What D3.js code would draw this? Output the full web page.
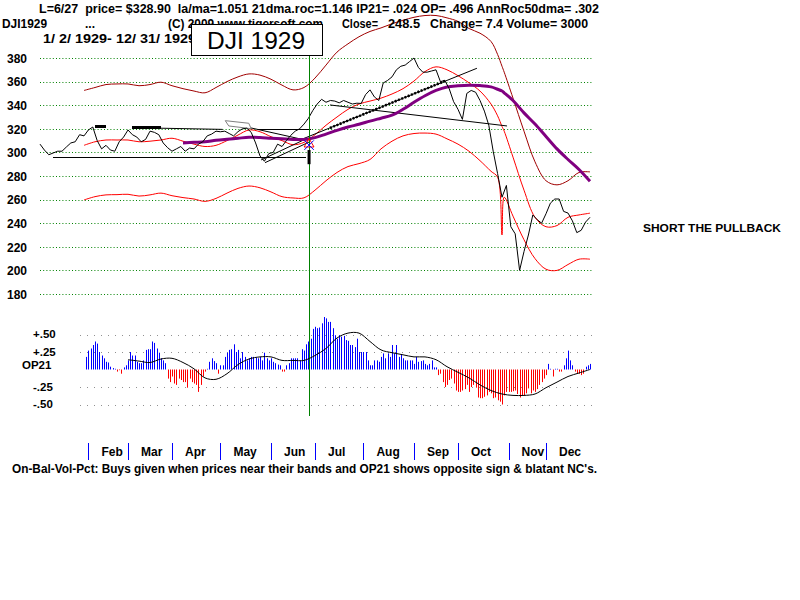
<!DOCTYPE html>
<html>
<head>
<meta charset="utf-8">
<script src="https://cdn.jsdelivr.net/npm/d3@7"></script>
<style>
  body { margin: 0; background: #fff; }
  svg { display: block; }
  text { font-family: Arial, "Liberation Sans", sans-serif; font-weight: bold; fill: #000; }
</style>
</head>
<body>
<svg id="chart" width="800" height="600"></svg>
<script>
// ---- data ----
const priceTicks = [180, 200, 220, 240, 260, 280, 300, 320, 340, 360, 380];
const opTicks = [0.5, 0.25, -0.25, -0.5];
const opLabels = ["+.50", "+.25", "OP21", "-.25", "-.50"];
const opLabelVals = [0.5, 0.25, 0.06, -0.25, -0.5];
const months = ["Feb", "Mar", "Apr", "May", "Jun", "Jul", "Aug", "Sep", "Oct", "Nov", "Dec"];
const monthDays = [22, 40, 60, 82, 105, 125, 147, 170, 190, 213, 230];

// daily closes, one every 2 trading days
const priceStep = 2;
const price = [
  307, 302, 298, 299.5, 301, 301, 304.6, 308, 309, 315,
  314, 319, 321.5, 310, 303, 306, 302, 301, 309, 313,
  319, 315, 313, 309, 311, 318, 317, 315, 308, 304,
  301, 303, 305, 301, 303.7, 303, 307, 309, 314, 315.5,
  318, 317.5, 318, 316, 314, 317.6, 320, 320.5, 317, 308,
  297, 292.5, 299, 300, 307, 305, 310, 314.5, 318, 320,
  324, 328.9, 335.5, 341, 345, 342.5, 344, 343.5, 342, 344,
  342.5, 341, 341.7, 341.5, 349, 353, 347, 344, 358.8, 361,
  364, 370, 373, 374, 377, 380, 372, 368, 368, 369,
  370, 360, 361, 354, 343, 336.5, 328, 350, 352.5, 351,
  344, 335, 323, 301, 282, 262, 272, 237, 231, 200,
  216, 230, 247, 243, 240, 248, 257, 260.5, 260.5, 250,
  248.6, 242, 232, 234, 241, 245
];

const bandDays = [
  20, 25, 30, 35, 40, 45, 50, 55, 60, 65, 70, 75, 80, 85, 90, 95, 100, 105, 110, 115,
  120, 125, 130, 135, 140, 145, 150, 155, 160, 165, 170, 175, 180, 185, 190, 195, 200, 205,
  208, 210, 211, 215, 220, 225, 230, 235, 240, 245, 250
];
const upperBand = [
  352.5, 355, 357.5, 358, 358, 356.5, 357.5, 359.5, 356.5, 354, 352, 350.5, 355, 360, 364, 366.5, 365.5, 362, 357, 353,
  355, 363, 374, 385, 392, 398, 402.5, 405.5, 409, 412, 414.5, 416, 416, 414, 411, 405, 401, 394,
  383, 373, 368, 346, 318, 292, 276, 272.5, 276, 283, 283.5
];
const midBand = [
  306, 309, 310.5, 310.5, 310.5, 309, 309.5, 310.5, 312, 309.5, 307, 305, 306, 310, 314.7, 319, 317.5, 313.3, 310, 306.5,
  308.5, 315, 323, 330, 336.5, 341, 343.5, 346, 349.5, 354, 360.5, 368.5, 372.5, 370, 365, 359, 352, 341,
  331, 322, 318, 296, 268, 245, 237, 238, 245, 247, 248.5
];
const lowerBand = [
  259.7, 262.5, 264, 264.2, 264.5, 263, 264, 265.5, 263.3, 261.7, 260.5, 258.5, 261, 265.5, 269.5, 271.5, 270, 266.5, 262.5, 261.4,
  261.5, 268, 276, 283, 288, 290.5, 294, 303, 309.5, 314, 316, 316.4, 315.5, 311.5, 307, 301, 293, 284,
  279, 230, 262, 246, 226, 210, 201, 200, 205, 209.5, 209.5
];
const ma50 = [
  null, null, null, null, null, null, null, null, null, 308, 308.5, 309, 310.3, 311.2, 312, 312.8, 312.6, 312, 311.5, 311,
  311, 312.5, 315.5, 318.7, 321.5, 323.8, 326.5, 329, 331.5, 336.5, 342.5, 348, 352.5, 355.5, 356.5, 357, 356.6, 355.5,
  353.5, 352, 350.5, 344, 333.5, 324, 313.5, 303, 294, 285.5, 275.5
];

// OP21 daily bars, from day 21 to day 250
const opStart = 21;
const op21 = [
  .18, .27, .30, .35, .40, .37, .25, .20, .16, .11,
  .10, .04, .02, .01, -.03, -.01, -.06, .03, .06, .13,
  .25, .20, .20, .11, .09, .09, .13, .28, .29, .29,
  .40, .38, .30, .24, .16, .13, .09, -.13, -.18, -.10,
  -.20, -.22, -.13, -.15, -.18, -.18, -.26, -.13, -.18, -.20,
  -.22, -.32, -.22, -.10, -.03, .01, .11, .16, .12, .09,
  -.06, .06, .06, .18, .24, .28, .29, .36, .25, .28,
  .16, .25, .18, .13, .16, .18, .18, .17, .16, .18,
  .13, .24, .16, .13, .16, .11, .09, .07, .06, -.03,
  -.03, .06, .09, .16, .16, .16, .16, .13, .29, .27,
  .36, .40, .44, .58, .61, .59, .60, .66, .75, .73,
  .68, .68, .59, .49, .44, .49, .47, .48, .42, .41,
  .35, .35, .32, .44, .25, .25, .25, .25, .13, .06,
  .06, .13, .13, .11, .18, .23, .16, .23, .18, .35,
  .23, .35, .18, .22, .16, .13, .13, .13, .13, .08,
  .18, .11, .12, .13, .08, .06, .08, .13, .03, .03,
  -.08, -.06, -.18, -.25, -.22, -.15, -.13, -.20, -.30, -.32,
  -.32, -.30, -.28, -.22, -.32, -.25, -.22, -.26, -.40, -.41,
  -.41, -.39, -.37, -.32, -.34, -.41, -.40, -.44, -.46, -.50,
  -.37, -.32, -.32, -.32, -.31, -.30, -.35, -.40, -.37, -.37,
  -.34, -.27, -.34, -.30, -.32, -.28, -.22, -.18, -.13, -.08,
  .08, .01, -.10, .01, .01, -.03, -.03, .06, .16, .27,
  .13, .06, -.03, -.06, -.06, -.08, -.06, .04, .06, .08
];
// OP21 moving average, every 5 days from day 40
const opMaStart = 40, opMaStep = 5;
const opMa = [
  .14, .12, .10, .15, .16, .10, .01, -.12, -.14, -.06,
  .07, .15, .18, .18, .13, .13, .13, .20, .30, .45,
  .52, .52, .40, .28, .24, .21, .18, .18, .14, .04,
  -.04, -.12, -.22, -.30, -.35, -.37, -.37, -.35, -.26, -.18,
  -.10, -.05, .00
];

// hand drawn trend lines: [day1, price1, day2, price2, width]
const trendLines = [
  [25, 322, 30, 322, 2.5],
  [42, 321, 55, 321, 2.5],
  [55, 320.5, 83, 319.5, 1],
  [6, 296, 121, 296, 1],
  [99, 319.4, 123, 319.4, 1],
  [96, 320.7, 120.5, 310.5, 1],
  [100.5, 293.6, 120.5, 311.1, 1],
  [102.3, 291.3, 122.7, 309.1, 1],
  [118.2, 310.5, 198.6, 371.3, 1],
  [131.8, 340.2, 212.3, 322.4, 1]
];
const dottedTrend = [131.8, 320.7, 184.1, 360.5];
const wedgeBox = [[84.2, 326.9], [85.8, 322.4], [96, 320.1], [94.9, 324.7]];
const signalDay = 122.3;
const signalBar = [302, 290];
const signalPrice = 307;

// ---- drawing ----
const svg = d3.select("#chart");
const x = d3.scaleLinear().domain([0, 250]).range([40, 590]);
const y = d3.scaleLinear().domain([180, 380]).range([294, 58]);
const yo = d3.scaleLinear().domain([-0.5, 0.5]).range([404.5, 334.5]);

// price grid
svg.append("g").selectAll("line").data(priceTicks).join("line")
  .attr("x1", 40).attr("x2", 592)
  .attr("y1", d => Math.round(y(d)) + 0.5).attr("y2", d => Math.round(y(d)) + 0.5)
  .attr("stroke", "#008000").attr("stroke-dasharray", "1,2.2");

svg.append("g")
  .attr("transform", "translate(27,0)")
  .call(d3.axisLeft(y).tickValues(priceTicks).tickSize(0).tickPadding(0).tickFormat(d3.format("d")))
  .call(g => g.select(".domain").remove())
  .selectAll("text")
  .attr("dy", "0.36em")
  .style("font-size", "12px").style("font-weight", "bold")
  .style("font-family", "Arial, 'Liberation Sans', sans-serif");

// bands
const bandLine = d3.line()
  .defined(d => d[1] != null)
  .x(d => x(d[0])).y(d => y(d[1]))
  .curve(d3.curveCatmullRom);
const pair = arr => bandDays.map((d, i) => [d, arr[i]]);

svg.append("path").datum(pair(upperBand)).attr("d", bandLine)
  .attr("fill", "none").attr("stroke", "#a00000").attr("stroke-width", 1);
svg.append("path").datum(pair(lowerBand)).attr("d", bandLine)
  .attr("fill", "none").attr("stroke", "#ff0000").attr("stroke-width", 1);
svg.append("path").datum(pair(midBand)).attr("d", bandLine)
  .attr("fill", "none").attr("stroke", "#ff0000").attr("stroke-width", 1);

// wedge box
svg.append("path")
  .datum(wedgeBox)
  .attr("d", d3.line().x(d => x(d[0])).y(d => y(d[1])).curve(d3.curveLinearClosed))
  .attr("fill", "none").attr("stroke", "#808080").attr("stroke-width", 1);

// trend lines
svg.append("g").selectAll("line").data(trendLines).join("line")
  .attr("x1", d => x(d[0])).attr("y1", d => y(d[1]))
  .attr("x2", d => x(d[2])).attr("y2", d => y(d[3]))
  .attr("stroke", "#000").attr("stroke-width", d => d[4])
  .attr("shape-rendering", d => d[1] === d[3] ? "crispEdges" : null);
svg.append("line")
  .attr("x1", x(dottedTrend[0])).attr("y1", y(dottedTrend[1]))
  .attr("x2", x(dottedTrend[2])).attr("y2", y(dottedTrend[3]))
  .attr("stroke", "#000").attr("stroke-width", 2.5).attr("stroke-dasharray", "2,1.5");

// 50 dma
svg.append("path").datum(pair(ma50)).attr("d", bandLine)
  .attr("fill", "none").attr("stroke", "#800080").attr("stroke-width", 3);

// price
svg.append("path").datum(price)
  .attr("d", d3.line().x((v, i) => x(i * priceStep)).y(v => y(v)))
  .attr("fill", "none").attr("stroke", "#000").attr("stroke-width", 1);

// signal marker
const sx = x(signalDay);
svg.append("line")
  .attr("x1", Math.round(sx) + 0.5).attr("x2", Math.round(sx) + 0.5)
  .attr("y1", 55).attr("y2", 416)
  .attr("stroke", "#008000").attr("stroke-width", 1);
svg.append("line")
  .attr("x1", sx).attr("x2", sx)
  .attr("y1", y(signalBar[0])).attr("y2", y(signalBar[1]))
  .attr("stroke", "#000").attr("stroke-width", 3);
svg.append("path")
  .attr("transform", `translate(${sx},${y(signalPrice)})`)
  .attr("d", d3.symbol(d3.symbolTriangle2, 70)())
  .attr("fill", "none").attr("stroke", "#ff0000");
svg.append("path")
  .attr("transform", `translate(${sx},${y(signalPrice) + 1})`)
  .attr("d", d3.symbol(d3.symbolTimes, 60)())
  .attr("fill", "none").attr("stroke", "#0000ff");

// OP21 panel
svg.append("g").selectAll("line").data(opTicks).join("line")
  .attr("x1", 80).attr("x2", 592)
  .attr("y1", d => Math.round(yo(d)) + 0.5).attr("y2", d => Math.round(yo(d)) + 0.5)
  .attr("stroke", "#909090").attr("stroke-dasharray", "1,6");

svg.append("g").selectAll("line").data(op21).join("line")
  .attr("x1", (v, i) => Math.round(x(opStart + i)) + 0.5)
  .attr("x2", (v, i) => Math.round(x(opStart + i)) + 0.5)
  .attr("y1", yo(0))
  .attr("y2", v => yo(v))
  .attr("stroke", v => v >= 0 ? "#0000ff" : "#ff0000")
  .attr("stroke-width", 1);

svg.append("path").datum(opMa)
  .attr("d", d3.line().x((v, i) => x(opMaStart + i * opMaStep)).y(v => yo(v)).curve(d3.curveCatmullRom))
  .attr("fill", "none").attr("stroke", "#000").attr("stroke-width", 1);

svg.append("g").selectAll("text").data(opLabels).join("text")
  .attr("x", d => d === "OP21" ? 22 : 33)
  .attr("y", (d, i) => yo(opLabelVals[i]))
  .attr("dy", "0.34em")
  .style("font-size", "11.5px")
  .text(d => d);

// month axis
svg.append("g").selectAll("line").data(monthDays).join("line")
  .attr("x1", d => Math.round(x(d)) + 0.5).attr("x2", d => Math.round(x(d)) + 0.5)
  .attr("y1", 443).attr("y2", 460)
  .attr("stroke", "#0000ff");
svg.append("g").selectAll("text").data(months).join("text")
  .attr("x", (d, i) => x(monthDays[i]) + 13)
  .attr("y", 456)
  .style("font-size", "12px")
  .text(d => d);

svg.append("text").attr("x", 12).attr("y", 473)
  .attr("textLength", 585).attr("lengthAdjust", "spacingAndGlyphs")
  .style("font-size", "12px")
  .text("On-Bal-Vol-Pct: Buys given when prices near their bands and OP21 shows opposite sign & blatant NC's.");

// header
const hdr = (t, tx, ty, len) => {
  const e = svg.append("text").attr("x", tx).attr("y", ty).style("font-size", "12px").text(t);
  if (len) e.attr("textLength", len).attr("lengthAdjust", "spacingAndGlyphs");
  return e;
};
hdr("L=6/27  price= $328.90  la/ma=1.051 21dma.roc=1.146 IP21= .024 OP= .496 AnnRoc50dma= .302", 39, 13, 560)
  .attr("xml:space", "preserve");
hdr("DJI1929", 2, 28, 45);
hdr("...", 85, 28, 10);
hdr("(C) 2009 www.tigersoft.com", 168, 28, 155);
hdr("Close=", 342, 28, 36);
hdr("248.5", 388, 28, 32);
hdr("Change= 7.4 Volume= 3000", 430, 28, 158);
hdr("1/ 2/ 1929- 12/ 31/ 1929", 43, 43, 153).attr("xml:space", "preserve");

// title box
svg.append("rect").attr("x", 191.5).attr("y", 24.5).attr("width", 131).attr("height", 31)
  .attr("fill", "#fff").attr("stroke", "#000");
svg.append("text").attr("x", 207).attr("y", 49)
  .attr("textLength", 98).attr("lengthAdjust", "spacingAndGlyphs")
  .style("font-size", "23px").style("font-weight", "normal")
  .text("DJI 1929");

svg.append("text").attr("x", 643).attr("y", 232)
  .attr("textLength", 138).attr("lengthAdjust", "spacingAndGlyphs")
  .style("font-size", "11px")
  .text("SHORT THE PULLBACK");
</script>
</body>
</html>
